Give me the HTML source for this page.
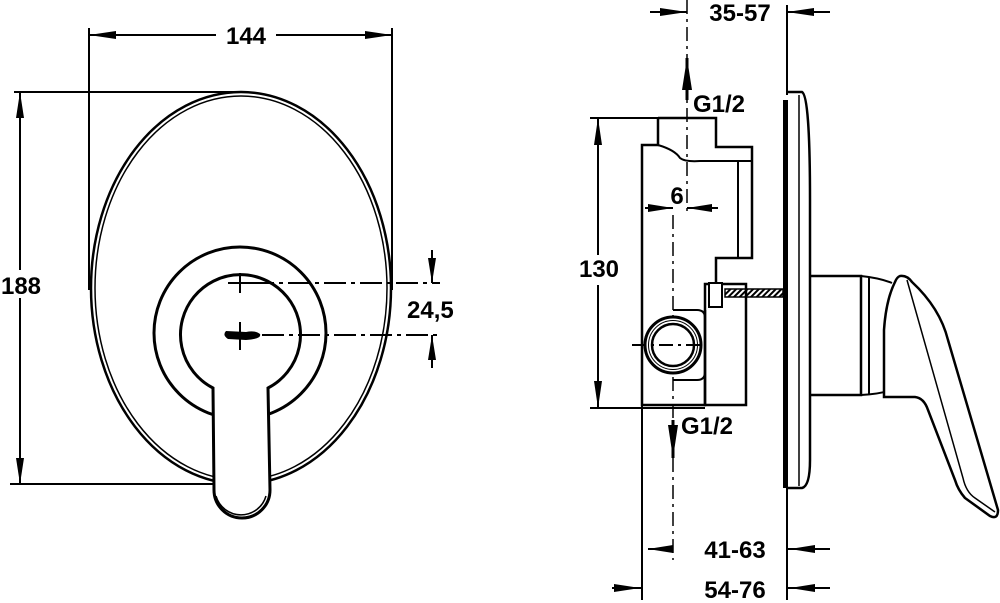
<!DOCTYPE html>
<html><head><meta charset="utf-8"><style>
html,body{margin:0;padding:0;background:#fff}
svg{display:block}
text{font-family:"Liberation Sans",sans-serif;font-weight:bold;font-size:24px;fill:#000}
</style></head><body>
<svg width="1000" height="603" viewBox="0 0 1000 603" xmlns="http://www.w3.org/2000/svg">
<defs>
<pattern id="h" width="4" height="4" patternUnits="userSpaceOnUse" patternTransform="rotate(45)"><rect width="2" height="4" fill="#000"/></pattern>
</defs>
<g stroke="#000" fill="none" stroke-width="2">
<line x1="89" y1="28" x2="89" y2="290"/>
<line x1="392" y1="28" x2="392" y2="290"/>
<line x1="89" y1="35" x2="392" y2="35"/>
<line x1="14" y1="92" x2="243" y2="92"/>
<line x1="10" y1="484" x2="215" y2="484"/>
<line x1="20" y1="92" x2="20" y2="484"/>
<ellipse cx="241" cy="288" rx="150" ry="196" stroke-width="2.5"/>
<ellipse cx="241" cy="288" rx="146" ry="192" stroke-width="1.5"/>
<circle cx="240" cy="333" r="86" stroke-width="3"/>
<path d="M213 388 A60 60 0 1 1 268 388 L270 490 A28 28 0 0 1 214 490 Z" fill="#fff" stroke-width="3"/>
<path d="M216 496 A26 26 0 0 0 266 496" stroke-width="1.5"/>
<line x1="228" y1="283" x2="252" y2="283"/><line x1="240" y1="273" x2="240" y2="293"/>
<line x1="240" y1="322" x2="240" y2="350"/>
<path d="M252 283 H440" stroke-dasharray="22 5 4 5"/>
<path d="M262 335 H440" stroke-dasharray="22 5 4 5"/>
<path d="M226 331 Q222 335 228 339 L246 340 Q262 339 260 334 Q255 330 246 332 Z" fill="#000" stroke="none"/>
<line x1="432" y1="250" x2="432" y2="283"/>
<line x1="432" y1="335" x2="432" y2="368"/>

<path d="M687 0 V215" stroke-width="1.5" stroke-dasharray="14 5 3 5"/>
<path d="M673 215 V560" stroke-width="1.5" stroke-dasharray="14 5 3 5"/>
<line x1="650" y1="12" x2="687" y2="12"/>
<line x1="787" y1="12" x2="830" y2="12"/>
<line x1="787" y1="5" x2="787" y2="95"/>
<line x1="590" y1="118" x2="716" y2="118"/>
<line x1="590" y1="408" x2="705" y2="408"/>
<line x1="598" y1="118" x2="598" y2="255"/>
<line x1="598" y1="285" x2="598" y2="408"/>
<line x1="642" y1="405" x2="642" y2="600"/>
<line x1="787" y1="488" x2="787" y2="600"/>
<line x1="612" y1="588" x2="642" y2="588"/>
<line x1="787" y1="588" x2="830" y2="588"/>
<line x1="648" y1="549" x2="673" y2="549"/>
<line x1="787" y1="549" x2="830" y2="549"/>
<line x1="645" y1="208" x2="673" y2="208"/>
<line x1="687" y1="208" x2="718" y2="208"/>
<path d="M658 118 H716 V147 H752 V258 H716 V284" stroke-width="2.5"/>
<path d="M658 118 V145 H642 V405 H705 V310" stroke-width="2.5"/>
<path d="M658 145 Q675 150 680 158 Q685 162 700 161 H752" stroke-width="2"/>
<line x1="738" y1="161" x2="738" y2="258"/>
<path d="M705 310 V405 H746 V284 H705 Z" stroke-width="2.5"/>
<rect x="725" y="289" width="58" height="8" fill="url(#h)" stroke-width="1.5"/>
<rect x="709" y="283" width="13" height="24" fill="#fff" stroke-width="2"/>
<path d="M673 310 H697 Q705 310 705 318 V372 Q705 380 697 380 H673" stroke-width="2"/>
<circle cx="673" cy="345" r="28" fill="#fff" stroke-width="3"/>
<circle cx="673" cy="345" r="21" stroke-width="2.5"/>
<circle cx="673" cy="345" r="24.5" stroke-width="1"/>
<line x1="632" y1="345" x2="706" y2="345" stroke-dasharray="14 5 3 5"/>
<rect x="783" y="100" width="5" height="388" fill="#000" stroke="none"/>
<path d="M787 92 H802 Q810 96 810 200 V460 Q810 486 802 488 H787" stroke-width="2.5"/>
<line x1="799" y1="95" x2="799" y2="486" stroke-width="1.5"/>
<path d="M810 276 H861 V395 H810" stroke-width="2.5"/>
<line x1="869" y1="277" x2="869" y2="394"/>
<path d="M861 276 Q880 278 892 283 M861 395 Q880 394 892 390" stroke-width="2"/>
<path d="M900 276 Q907 275 912 282 Q940 308 948 340 L998 510 Q998 520 990 516 L965 498 Q958 490 955 480 L928 410 Q924 398 915 397 H884 V330 Q886 300 895 282 Q897 277 900 276 Z" fill="#fff" stroke-width="2.5"/>
<path d="M907 280 L963 478 Q966 492 975 498 L995 512" stroke-width="1.5"/>
</g>
<g fill="#000">
<polygon points="89,35 116,31 116,39"/>
<polygon points="392,35 365,31 365,39"/>
<polygon points="20,92 16,118 24,118"/>
<polygon points="20,484 16,458 24,458"/>
<polygon points="432,283 428,258 436,258"/>
<polygon points="432,335 428,360 436,360"/>
<polygon points="687,12 660,8 660,16"/>
<polygon points="787,12 814,8 814,16"/>
<polygon points="687,58 682,90 692,90"/>
<line x1="687" y1="58" x2="687" y2="100" stroke="#000" stroke-width="3"/>
<polygon points="673,458 668,425 678,425"/>
<line x1="673" y1="420" x2="673" y2="458" stroke="#000" stroke-width="3"/>
<polygon points="598,118 594,145 602,145"/>
<polygon points="598,408 594,381 602,381"/>
<polygon points="673,208 648,204 648,212"/>
<polygon points="687,208 712,204 712,212"/>
<polygon points="648,549 673,545 673,553"/>
<polygon points="790,549 815,545 815,553"/>
<polygon points="640,588 614,584 614,592"/>
<polygon points="790,588 815,584 815,592"/>
</g>
<rect x="216" y="22" width="60" height="26" fill="#fff"/>
<text x="246" y="44" text-anchor="middle">144</text>
<rect x="0" y="270" width="42" height="28" fill="#fff"/>
<text x="21" y="294" text-anchor="middle">188</text>
<text x="407" y="318">24,5</text>
<text x="740" y="21" text-anchor="middle">35-57</text>
<text x="693" y="112">G1/2</text>
<text x="677" y="204" text-anchor="middle">6</text>
<rect x="574" y="255" width="48" height="28" fill="#fff"/>
<text x="599" y="277" text-anchor="middle">130</text>
<text x="681" y="434">G1/2</text>
<text x="735" y="558" text-anchor="middle">41-63</text>
<text x="735" y="598" text-anchor="middle">54-76</text>
</svg>
</body></html>
